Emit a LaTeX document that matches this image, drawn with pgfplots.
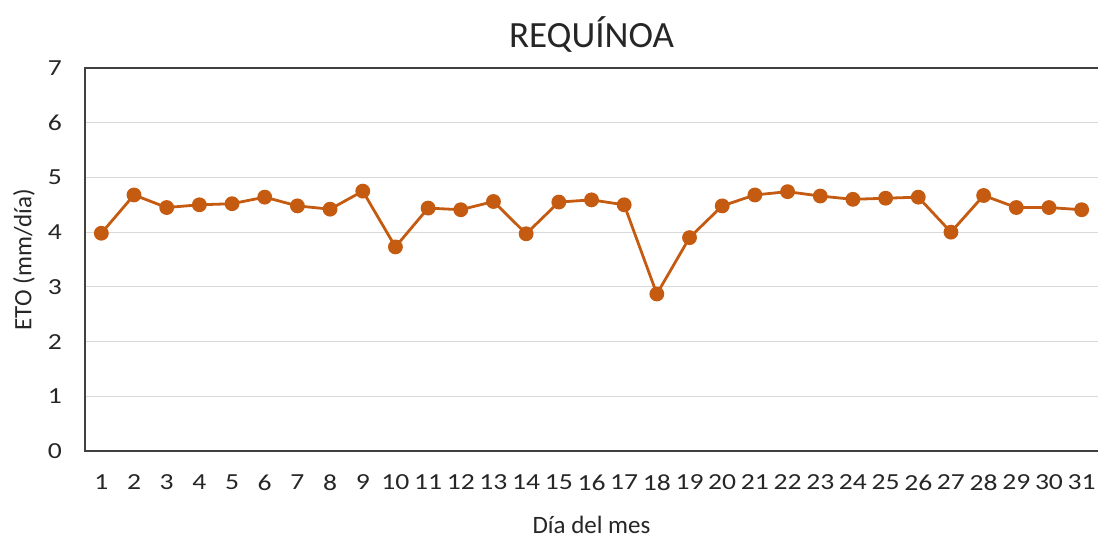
\documentclass[border=0pt]{standalone}
\usepackage{graphicx}
\usepackage{pgfplots}
\pgfplotsset{compat=1.18}
\usepackage{fontspec}
\setmainfont{Carlito}
\definecolor{lineorange}{HTML}{C55A11}
\definecolor{gridgray}{HTML}{D9D9D9}
\definecolor{framegray}{HTML}{404040}
\definecolor{textgray}{HTML}{262626}

\begin{document}
\begin{tikzpicture}
\useasboundingbox (-42.5pt,-43pt) rectangle (506.5pt,225.5pt);
\begin{axis}[
  at={(0,0)}, anchor=south west,
  scale only axis, width=506.5pt, height=191.5pt,
  xmin=0.5, xmax=31.5, ymin=0, ymax=7,
  xtick={1,...,31}, ytick={0,...,7},
  major tick length=0pt,
  ymajorgrids, grid style={gridgray, line width=0.6pt},
  axis line style={draw=none},
  tick label style={font=\fontsize{11.5}{13}\selectfont, text=textgray},
  /pgf/number format/assume math mode=true,
  typeset ticklabels with strut,
  xticklabel={\scalebox{1.2}[1]{\pgfmathprintnumber{\tick}}},
  yticklabel={\scalebox{1.2}[1]{\pgfmathprintnumber{\tick}}},
  xticklabel style={yshift=-8.5pt},
  yticklabel style={xshift=-8pt},
  ylabel={ETO (mm/día)}, xlabel={Día del mes},
  label style={font=\fontsize{12.5}{15}\selectfont, text=textgray},
  ylabel style={at={(rel axis cs:0,0.5)}, anchor=center, rotate=0, yshift=30.5pt},
  xlabel style={at={(rel axis cs:0.5,0)}, anchor=center, yshift=-37pt},
  title={REQUÍNOA},
  title style={font=\fontsize{18.5}{22}\selectfont, text=textgray, at={(rel axis cs:0.5,1)}, anchor=center, yshift=11pt},
  clip=false,
]
\draw[framegray, line width=0.9pt] (rel axis cs:1,1) -- (rel axis cs:0,1) -- (rel axis cs:0,0) -- (rel axis cs:1,0);
\addplot[lineorange, line width=1.4pt, mark=*, mark size=3pt, mark options={fill=lineorange, draw=lineorange}]
coordinates {
(1,3.98) (2,4.68) (3,4.45) (4,4.50) (5,4.52) (6,4.64) (7,4.48) (8,4.42)
(9,4.75) (10,3.73) (11,4.44) (12,4.41) (13,4.56) (14,3.97) (15,4.55) (16,4.59)
(17,4.50) (18,2.87) (19,3.90) (20,4.48) (21,4.68) (22,4.74) (23,4.66) (24,4.60)
(25,4.62) (26,4.64) (27,4.00) (28,4.67) (29,4.45) (30,4.45) (31,4.41)
};
\end{axis}
\end{tikzpicture}
\end{document}
